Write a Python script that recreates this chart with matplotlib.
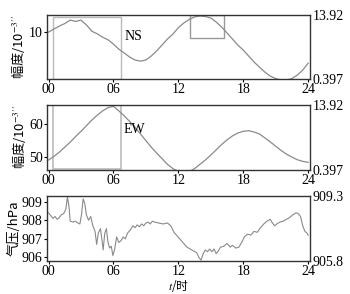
import matplotlib.pyplot as plt
from matplotlib.patches import Rectangle

plt.rcParams['font.family'] = ['Liberation Serif', 'Noto Sans CJK SC', 'DejaVu Sans']
plt.rcParams['mathtext.fontset'] = 'stix'

hours = [i * 0.5 for i in range(49)]
ns = [10.0, 10.36, 10.7, 11.0, 11.4, 11.25, 11.4, 10.85, 10.1, 9.8, 9.4, 9.1, 8.6, 8.0,
      7.55, 7.08, 6.73, 6.6, 6.73, 7.2, 7.8, 8.5, 9.19, 9.77, 10.5, 11.06, 11.47, 11.77,
      11.88, 11.82, 11.65, 11.18, 10.6, 9.9, 9.19, 8.48, 7.9, 7.2, 6.5, 5.9, 5.32, 4.85,
      4.56, 4.38, 4.38, 4.56, 4.97, 5.55, 6.37]
ew = [49.1, 50.2, 51.5, 53.0, 54.5, 56.2, 57.8, 59.5, 61.2, 62.7, 64.0, 65.0, 65.4, 64.0,
      62.5, 60.8, 59.0, 57.0, 55.0, 53.0, 51.2, 49.5, 47.8, 46.5, 45.6, 45.3, 45.6, 46.5,
      47.8, 49.1, 50.6, 52.2, 53.8, 55.2, 56.4, 57.3, 57.8, 58.0, 57.6, 57.0, 55.8, 54.6,
      53.3, 52.0, 50.9, 50.0, 49.2, 48.7, 48.4]

p_hours = [0.0, 0.2, 0.4, 0.6, 0.8, 1.0, 1.2, 1.4, 1.6, 1.75, 1.9, 2.0, 2.3, 2.5, 2.7, 2.9,
           3.05, 3.2, 3.35, 3.5, 3.7, 3.9, 4.1, 4.3, 4.45, 4.6, 4.8, 4.95, 5.05, 5.2, 5.35,
           5.5, 5.65, 5.8, 5.95, 6.1, 6.3, 6.5, 6.7, 6.9, 7.1, 7.3, 7.6, 7.8, 8.0, 8.2, 8.4,
           8.6, 8.8, 9.0, 9.2, 9.4, 9.6, 9.8, 10.2, 10.6, 11.0, 11.3, 11.6, 11.9, 12.2, 12.5,
           12.8, 13.1, 13.4, 13.7, 13.9, 14.1, 14.3, 14.5, 14.7, 14.9, 15.1, 15.3, 15.5,
           15.7, 15.9, 16.2, 16.5, 16.8, 17.0, 17.3, 17.6, 17.9, 18.1, 18.4, 18.7, 19.0,
           19.3, 19.6, 19.9, 20.2, 20.5, 20.7, 20.9, 21.1, 21.4, 21.7, 22.0, 22.3, 22.6,
           22.9, 23.1, 23.3, 23.5, 23.7, 23.9, 24.0]
pressure = [908.4, 908.25, 908.1, 908.2, 908.05, 908.15, 908.3, 908.35, 908.6, 909.25,
            908.7, 907.95, 907.9, 907.95, 907.85, 907.8, 908.3, 909.15, 908.9, 908.3,
            908.0, 908.2, 907.7, 907.4, 906.7, 907.3, 907.55, 906.9, 906.4, 907.3, 907.55,
            906.8, 906.5, 906.6, 906.1, 906.4, 907.1, 906.8, 906.9, 907.1, 907.0, 907.3,
            907.5, 907.7, 907.6, 907.75, 907.65, 907.8, 907.7, 907.85, 907.9, 907.8,
            907.95, 907.9, 907.85, 907.8, 907.85, 907.7, 907.35, 907.15, 906.95, 906.75,
            906.55, 906.45, 906.35, 906.25, 906.0, 905.85, 906.2, 906.4, 906.3, 906.45,
            906.3, 906.45, 906.2, 906.35, 906.55, 906.6, 906.75, 906.55, 906.65, 906.5,
            906.55, 906.85, 907.1, 907.25, 907.2, 907.4, 907.35, 907.6, 907.8, 907.95,
            908.05, 907.85, 907.7, 907.8, 907.9, 907.95, 908.05, 908.15, 908.3, 908.4,
            908.35, 908.2, 907.7, 907.4, 907.3, 907.2]

xticks = [0, 6, 12, 18, 24]
xticklabels = ['00', '06', '12', '18', '24']

fig = plt.figure(figsize=(3.5, 2.94), dpi=100)
ax1 = fig.add_axes([0.134, 0.731, 0.751, 0.218])
ax2 = fig.add_axes([0.134, 0.422, 0.751, 0.221])
ax3 = fig.add_axes([0.134, 0.112, 0.751, 0.221])

line_c = '#8a8a8a'
ax1.plot(hours, ns, color=line_c, lw=0.9)
ax2.plot(hours, ew, color=line_c, lw=0.9)
ax3.plot(p_hours, pressure, color=line_c, lw=0.8)

ax1.set_ylim(4.5, 12.0)
ax1.set_yticks([10])
ax2.set_ylim(46.1, 65.8)
ax2.set_yticks([50, 60])
ax3.set_ylim(905.8, 909.3)
ax3.set_yticks([906, 907, 908, 909])

ax1.add_patch(Rectangle((0.41, 4.5), 6.32, 7.27, fill=False, ec='#bbbbbb', lw=1.0))
ax1.add_patch(Rectangle((13.05, 9.3), 3.2, 2.7, fill=False, ec='#999999', lw=1.0))
ax2.add_patch(Rectangle((0.41, 46.3), 6.32, 19.5, fill=False, ec='#bbbbbb', lw=1.2))

ax1.text(7.0, 9.5, 'NS', fontsize=10, va='center')
ax2.text(6.9, 58.5, 'EW', fontsize=10, va='center')

right_ticks = [(0.397, 13.92), (0.397, 13.92), (905.8, 909.3)]
for ax, (lo, hi) in zip([ax1, ax2, ax3], right_ticks):
    ax.set_xlim(-0.15, 24.15)
    ax.set_xticks(xticks)
    ax.set_xticklabels(xticklabels)
    ax.tick_params(labelsize=10, length=2, width=0.8, pad=1)
    for s in ax.spines.values():
        s.set_linewidth(1.0)
        s.set_color('#333333')
    r = ax.twinx()
    r.set_ylim(lo, hi)
    r.set_yticks([lo, hi])
    r.set_yticklabels([f'{lo:g}', f'{hi:g}'])
    r.tick_params(labelsize=10, length=0, pad=2)
    for s in r.spines.values():
        s.set_visible(False)

cjk = ['Noto Sans CJK SC', 'DejaVu Sans']
ax1.set_ylabel('幅度/10$^{-3\\prime\\prime}$', fontsize=9.5, family=cjk, labelpad=1)
ax2.set_ylabel('幅度/10$^{-3\\prime\\prime}$', fontsize=9.5, family=cjk, labelpad=1)
ax3.set_ylabel('气压/hPa', fontsize=9.5, family=cjk, labelpad=1)
ax3.set_xlabel('$t$/时', fontsize=8.5, family=cjk, labelpad=0)

fig.savefig('out.png', dpi=100)
